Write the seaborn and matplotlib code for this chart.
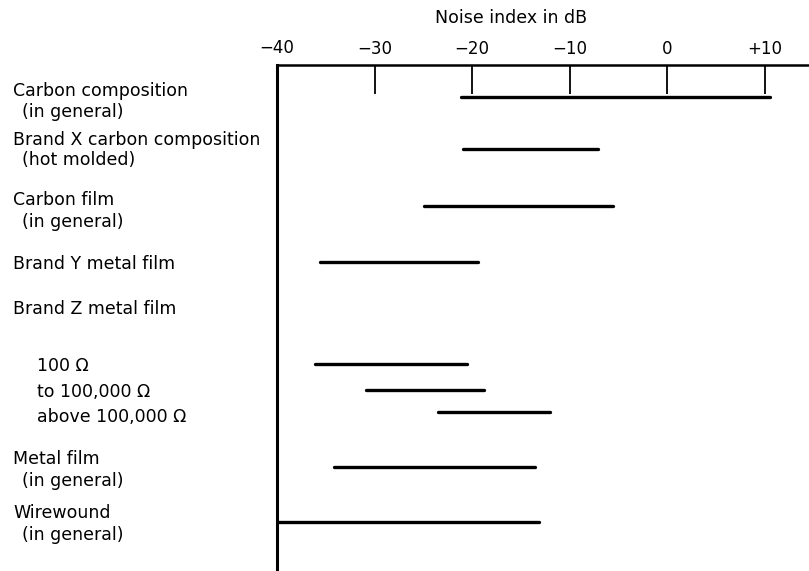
import pandas as pd
import seaborn as sns
import matplotlib.pyplot as plt

# noise index ranges (dB)
categories = ["Carbon composition", "Brand X carbon composition", "Carbon film",
              "Brand Y metal film", "100 Ω", "to 100,000 Ω", "above 100,000 Ω",
              "Metal film", "Wirewound"]
low_db = [-21.1, -20.9, -24.9, -35.6, -36.1, -30.9, -23.5, -34.2, -40.0]
high_db = [10.6, -7.1, -5.5, -19.4, -20.5, -18.8, -12.0, -13.5, -13.1]

tick_values = [-40, -30, -20, -10, 0, 10]
tick_labels = ["−40", "−30", "−20", "−10", "0", "+10"]

# row labels on the left: (text, indent level)
row_labels = [("Carbon composition", 0), ("(in general)", 1),
              ("Brand X carbon composition", 0), ("(hot molded)", 1),
              ("Carbon film", 0), ("(in general)", 1),
              ("Brand Y metal film", 0),
              ("Brand Z metal film", 0),
              ("100 Ω", 2), ("to 100,000 Ω", 2), ("above 100,000 Ω", 2),
              ("Metal film", 0), ("(in general)", 1),
              ("Wirewound", 0), ("(in general)", 1)]

# layout (pixel rows from the top of the image)
bar_rows = [97, 149, 206, 262, 364, 390, 412, 467, 522]
label_rows = [91, 112, 140, 160, 200, 222, 264, 309, 366, 392, 417, 459, 481, 513, 535]
indent_px = [13, 22, 37]

sns.set_style("white")
plt.rcParams["font.family"] = ["DejaVu Sans"]
plt.rcParams["text.color"] = "black"
plt.rcParams["xtick.color"] = "black"

W, H = 809, 571
fig = plt.figure(figsize=(W / 100, H / 100), dpi=100)
ax = fig.add_axes([277 / W, 0, 1 - 277 / W, 1 - 65 / H])

rows = []
for i, cat in enumerate(categories):
    rows.append({"row": i, "dB": low_db[i], "y": bar_rows[i]})
    rows.append({"row": i, "dB": high_db[i], "y": bar_rows[i]})
df = pd.DataFrame(rows)

sns.lineplot(data=df, x="dB", y="y", units="row", estimator=None, sort=False,
             color="black", linewidth=2.4, ax=ax, legend=False)

ax.set_xlim(-40, -40 + (W - 277) / 9.75)
ax.set_ylim(H, 65)

ax.xaxis.tick_top()
ax.set_xticks(tick_values[1:])
ax.set_xticklabels(tick_labels[1:], fontsize=12)
ax.tick_params(axis="x", direction="in", length=21, width=1.3, pad=5, color="black")
ax.set_yticks([])
ax.set_xlabel("")
ax.set_ylabel("")
fig.text(277 / W, 1 - 48 / H, tick_labels[0], fontsize=12, ha="center", va="center")

for side in ["right", "bottom"]:
    ax.spines[side].set_visible(False)
ax.spines["top"].set_linewidth(1.8)
ax.spines["left"].set_linewidth(2.2)
ax.spines["top"].set_color("black")
ax.spines["left"].set_color("black")

fig.text(511 / W, 1 - 18 / H, "Noise index in dB", fontsize=12.5, ha="center", va="center")

for (txt, lvl), yp in zip(row_labels, label_rows):
    fig.text(indent_px[lvl] / W, 1 - yp / H, txt, fontsize=12.5, ha="left", va="center")

fig.savefig("out.png", dpi=100)
